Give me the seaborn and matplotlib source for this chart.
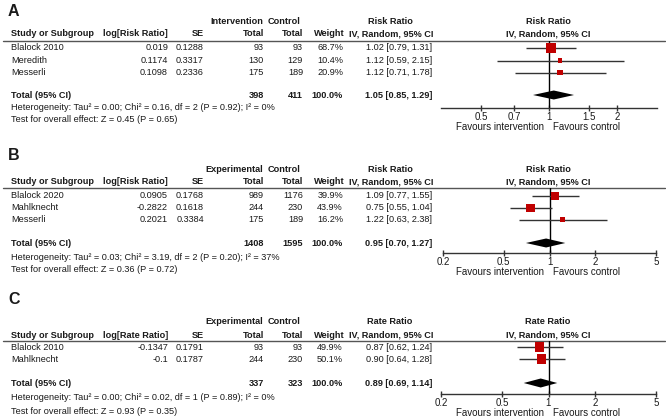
import numpy as np
import pandas as pd
import matplotlib
matplotlib.use('Agg')
import matplotlib.pyplot as plt
import seaborn as sns

## DADOS - PAINEL A
studies_a = ['Blalock 2010', 'Meredith', 'Messerli']
log_a = [0.019, 0.1174, 0.1098]
se_a = [0.1288, 0.3317, 0.2336]
n_exp_a = [93, 130, 175]
n_ctl_a = [93, 129, 189]
weight_a = [68.7, 10.4, 20.9]
rr_a = [1.02, 1.12, 1.12]
lo_a = [0.79, 0.59, 0.71]
hi_a = [1.31, 2.15, 1.78]
total_a = [398, 411, 1.05, 0.85, 1.29]
het_a = 'Heterogeneity: Tau² = 0.00; Chi² = 0.16, df = 2 (P = 0.92); I² = 0%'
test_a = 'Test for overall effect: Z = 0.45 (P = 0.65)'
ticks_a = [0.5, 0.7, 1, 1.5, 2]
ticklabels_a = ['0.5', '0.7', '1', '1.5', '2']

## DADOS - PAINEL B
studies_b = ['Blalock 2020', 'Mahlknecht', 'Messerli']
log_b = [0.0905, -0.2822, 0.2021]
se_b = [0.1768, 0.1618, 0.3384]
n_exp_b = [989, 244, 175]
n_ctl_b = [1176, 230, 189]
weight_b = [39.9, 43.9, 16.2]
rr_b = [1.09, 0.75, 1.22]
lo_b = [0.77, 0.55, 0.63]
hi_b = [1.55, 1.04, 2.38]
total_b = [1408, 1595, 0.95, 0.70, 1.27]
het_b = 'Heterogeneity: Tau² = 0.03; Chi² = 3.19, df = 2 (P = 0.20); I² = 37%'
test_b = 'Test for overall effect: Z = 0.36 (P = 0.72)'

## DADOS - PAINEL C
studies_c = ['Blalock 2010', 'Mahlknecht']
log_c = [-0.1347, -0.1]
se_c = [0.1791, 0.1787]
n_exp_c = [93, 244]
n_ctl_c = [93, 230]
weight_c = [49.9, 50.1]
rr_c = [0.87, 0.90]
lo_c = [0.62, 0.64]
hi_c = [1.24, 1.28]
total_c = [337, 323, 0.89, 0.69, 1.14]
het_c = 'Heterogeneity: Tau² = 0.00; Chi² = 0.02, df = 1 (P = 0.89); I² = 0%'
test_c = 'Test for overall effect: Z = 0.93 (P = 0.35)'
ticks_bc = [0.2, 0.5, 1, 2, 5]
ticklabels_bc = ['0.2', '0.5', '1', '2', '5']

sns.set_style('white')
plt.rcParams['font.family'] = ['Liberation Sans', 'DejaVu Sans']

W, H = 666, 418
fig = plt.figure(figsize=(W / 100, H / 100), dpi=100)
base = fig.add_axes([0, 0, 1, 1])
base.set_xlim(0, W)
base.set_ylim(H, 0)
base.axis('off')

FS = 6.6
TXT = '#1a1a1a'


def txt(x, y, s, ha='left', bold=False, size=FS):
    base.text(x, y, s, ha=ha, va='center', fontsize=size, color=TXT,
              fontweight='bold' if bold else 'normal')


def painel(letra, y0, grupo, eff, studies, logv, se, n1, n2, w, rr, lo, hi, tot,
           het, test, xlim, ticks, ticklabels, ax_box):
    y_lab, y_h1, y_h2, y_line, y_rows, y_tot, y_het, y_test, y_axis = y0
    txt(8, y_lab, letra, bold=True, size=11.5)
    # cabeçalhos
    txt(263, y_h1, grupo, ha='right', bold=True)
    txt(301, y_h1, 'Control', ha='right', bold=True)
    txt(390, y_h1, eff, ha='center', bold=True)
    txt(548, y_h1, eff, ha='center', bold=True)
    txt(11, y_h2, 'Study or Subgroup', bold=True)
    txt(168, y_h2, 'log[' + eff + ']', ha='right', bold=True)
    txt(204, y_h2, 'SE', ha='right', bold=True)
    txt(264, y_h2, 'Total', ha='right', bold=True)
    txt(303, y_h2, 'Total', ha='right', bold=True)
    txt(345, y_h2, 'Weight', ha='right', bold=True)
    txt(391, y_h2, 'IV, Random, 95% CI', ha='center', bold=True)
    txt(548, y_h2, 'IV, Random, 95% CI', ha='center', bold=True)
    base.plot([3, 665], [y_line, y_line], color='#555555', lw=1)

    for i in range(len(studies)):
        y = y_rows[i]
        txt(11, y, studies[i])
        txt(168, y, str(logv[i]), ha='right')
        txt(204, y, str(se[i]), ha='right')
        txt(264, y, str(n1[i]), ha='right')
        txt(303, y, str(n2[i]), ha='right')
        txt(343, y, f'{w[i]:.1f}%', ha='right')
        txt(432, y, f'{rr[i]:.2f} [{lo[i]:.2f}, {hi[i]:.2f}]', ha='right')

    txt(11, y_tot, 'Total (95% CI)', bold=True)
    txt(264, y_tot, str(tot[0]), ha='right', bold=True)
    txt(303, y_tot, str(tot[1]), ha='right', bold=True)
    txt(343, y_tot, '100.0%', ha='right', bold=True)
    txt(432, y_tot, f'{tot[2]:.2f} [{tot[3]:.2f}, {tot[4]:.2f}]', ha='right', bold=True)
    txt(11, y_het, het)
    txt(11, y_test, test)

    # forest plot
    left, right = ax_box
    ax = fig.add_axes([left / W, 1 - y_axis / H, (right - left) / W, (y_axis - y_line) / H])
    ax.set_xscale('log')
    ax.set_xlim(*xlim)
    ax.set_ylim(y_axis, y_line)
    ax.patch.set_alpha(0)
    for sp in ['top', 'left', 'right']:
        ax.spines[sp].set_visible(False)
    ax.spines['bottom'].set_color('#333333')
    ax.spines['bottom'].set_linewidth(1)
    ax.axvline(1, color='black', lw=1, zorder=1)
    ax.hlines(y_rows, lo, hi, color='#333333', lw=1, zorder=2)
    df = pd.DataFrame({'rr': rr, 'y': y_rows, 'w': w})
    sns.scatterplot(data=df, x='rr', y='y', size='w', sizes=(0, 85), size_norm=(0, 100),
                    marker='s', color='#c00000', linewidth=0, legend=False, ax=ax, zorder=3)
    dh = 4.5
    ax.fill([tot[3], tot[2], tot[4], tot[2]], [y_tot, y_tot - dh, y_tot, y_tot + dh],
            color='black', zorder=4, lw=0)
    ax.set_xticks(ticks)
    ax.set_xticklabels(ticklabels)
    ax.xaxis.set_minor_locator(matplotlib.ticker.NullLocator())
    ax.set_yticks([])
    ax.set_xlabel('')
    ax.set_ylabel('')
    ax.tick_params(axis='x', direction='inout', length=5, width=1, color='#333333',
                   labelsize=FS + 0.4, pad=0.5, labelcolor=TXT, bottom=True)
    # rótulos "Favours"
    base.text(544, y_axis + 19, 'Favours intervention', ha='right', va='center',
              fontsize=FS + 0.4, color=TXT)
    base.text(553, y_axis + 19, 'Favours control', ha='left', va='center',
              fontsize=FS + 0.4, color=TXT)


painel('A', (11, 22, 34, 40.5, [48, 60.5, 72.5], 95, 108, 120, 108), 'Intervention', 'Risk Ratio',
       studies_a, log_a, se_a, n_exp_a, n_ctl_a, weight_a, rr_a, lo_a, hi_a, total_a,
       het_a, test_a, (1 / 3, 3), ticks_a, ticklabels_a, (441, 657))

painel('B', (155, 169, 182, 188, [196, 208, 219.5], 243, 258, 269, 253), 'Experimental', 'Risk Ratio',
       studies_b, log_b, se_b, n_exp_b, n_ctl_b, weight_b, rr_b, lo_b, hi_b, total_b,
       het_b, test_b, (0.2, 5), ticks_bc, ticklabels_bc, (443, 656))

painel('C', (300, 322, 335, 341, [347, 359], 383, 398, 411, 394), 'Experimental', 'Rate Ratio',
       studies_c, log_c, se_c, n_exp_c, n_ctl_c, weight_c, rr_c, lo_c, hi_c, total_c,
       het_c, test_c, (0.2, 5), ticks_bc, ticklabels_bc, (441, 656))

plt.savefig('out.png', dpi=100)
